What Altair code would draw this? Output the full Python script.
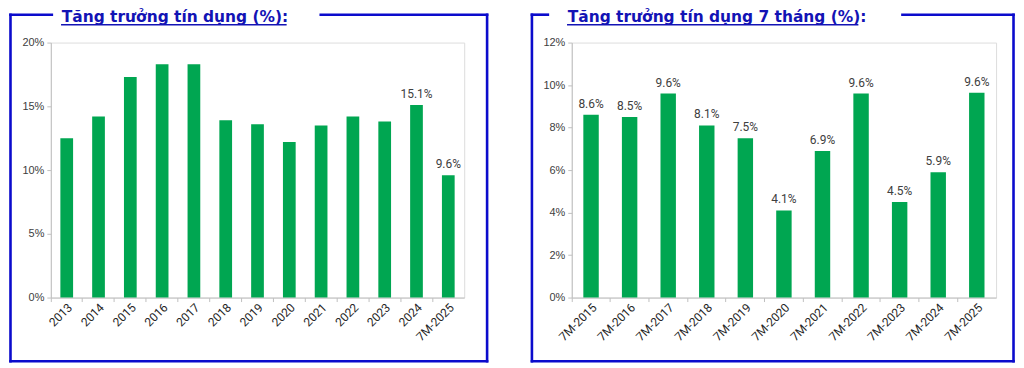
import altair as alt
import pandas as pd

# ---------------- data ----------------
left_cats = ["2013", "2014", "2015", "2016", "2017", "2018", "2019",
             "2020", "2021", "2022", "2023", "2024", "7M-2025"]
left_vals = [12.5, 14.2, 17.3, 18.3, 18.3, 13.9, 13.6, 12.2, 13.5, 14.2, 13.8, 15.1, 9.6]
left_labelled = ["2024", "7M-2025"]
left_ticks = [0, 5, 10, 15, 20]
left_title = "Tăng trưởng tín dụng (%):"

right_cats = ["7M-2015", "7M-2016", "7M-2017", "7M-2018", "7M-2019", "7M-2020",
              "7M-2021", "7M-2022", "7M-2023", "7M-2024", "7M-2025"]
right_vals = [8.6, 8.5, 9.6, 8.1, 7.5, 4.1, 6.9, 9.6, 4.5, 5.9, 9.64]
right_labelled = right_cats
right_ticks = [0, 2, 4, 6, 8, 10, 12]
right_title = "Tăng trưởng tín dụng 7 tháng (%):"

GREEN = "#00A651"
BORDER = "#0B0BCC"
TITLE_BLUE = "#1313B5"
AXIS_GREY = "#BFBFBF"
TEXT_GREY = "#404040"

one = alt.Data(values=[{"k": 0}])


def rule(x1, x2, y1, y2, color=BORDER, width=2.6):
    return alt.Chart(one).mark_rule(color=color, strokeWidth=width, strokeCap="square").encode(
        x=alt.value(x1), x2=alt.value(x2), y=alt.value(y1), y2=alt.value(y2))


def panel(cats, vals, labelled, ticks, ymax, title, w, h, geo):
    df = pd.DataFrame({
        "cat": cats,
        "val": vals,
        "lab": [f"{v:.1f}%" if c in labelled else "" for c, v in zip(cats, vals)],
    })
    xscale = alt.Scale(paddingInner=0, paddingOuter=0)
    yenc = alt.Y("val:Q", scale=alt.Scale(domain=[0, ymax], nice=False),
                 axis=alt.Axis(title=None, values=ticks, labelExpr="datum.value + '%'",
                               grid=False, domainColor=AXIS_GREY, tickColor=AXIS_GREY,
                               tickSize=4, labelFont="Liberation Sans", labelFontSize=11,
                               labelColor=TEXT_GREY, labelPadding=3))
    bars = alt.Chart(df).mark_bar(color=GREEN, width=alt.RelativeBandSize(0.4)).encode(
        x=alt.X("cat:N", sort=cats, scale=xscale,
                axis=alt.Axis(title=None, orient="bottom", labelAngle=-45, ticks=False,
                              domainColor=AXIS_GREY, labelFont="Roboto", labelFontSize=12,
                              labelColor="#262626", labelPadding=4)),
        y=yenc,
    )
    labels = alt.Chart(df).mark_text(baseline="bottom", dy=-4, font="Roboto", fontSize=12,
                                     color=TEXT_GREY).encode(
        x=alt.X("cat:N", sort=cats, scale=xscale,
                axis=alt.Axis(title=None, orient="bottom", bandPosition=0, labels=False,
                              domain=False, ticks=True, tickSize=4, tickColor=AXIS_GREY)),
        y=alt.Y("val:Q"),
        text="lab:N",
    )
    bl, br, bt, bb, tx, tend, segl, segr = geo
    ttl = alt.Chart(one).mark_text(align="left", baseline="alphabetic", font="DejaVu Sans",
                                   fontWeight="bold", fontSize=15.5, color=TITLE_BLUE).encode(
        x=alt.value(tx), y=alt.value(-21), text=alt.value(title))
    underline = rule(tx, tend, -18, -18, TITLE_BLUE, 1.5)
    layers = [
        bars, labels, ttl, underline,
        rule(bl, segl, bt, bt), rule(segr, br, bt, bt),
        rule(bl, bl, bt, bb), rule(br, br, bt, bb), rule(bl, br, bb, bb),
    ]
    return alt.layer(*layers).resolve_axis(x="independent").properties(width=w, height=h)


left = panel(left_cats, left_vals, left_labelled, left_ticks, 20, left_title, 415, 256,
             (-40.5, 438, -28, 320, 11, 236, 1, 271))
right = panel(right_cats, right_vals, right_labelled, right_ticks, 12, right_title, 426, 256,
              (-40, 443.5, -28, 320, -4, 287, -24, 332))

chart = alt.hconcat(left, right, spacing=108, bounds="flush").properties(
    padding={"left": 0, "top": 0, "right": 0, "bottom": 0}
).configure_view(stroke=None).configure(background="white")

chart.save("out.html", embed_options={"renderer": "svg", "actions": False})
